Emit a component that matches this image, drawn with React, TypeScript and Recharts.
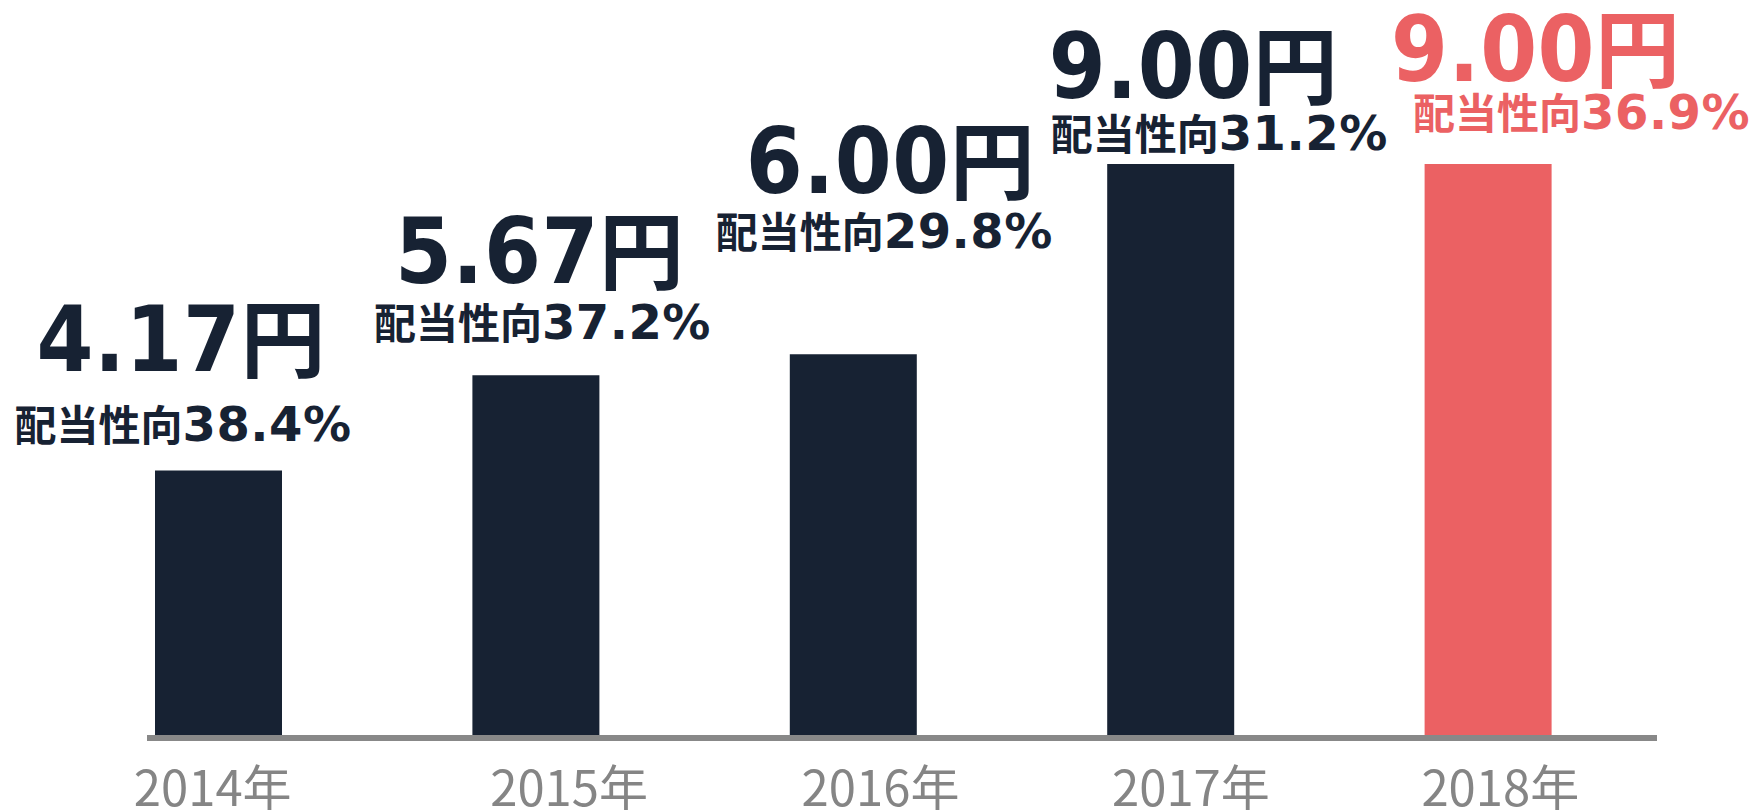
import React from 'react';
import { BarChart, Bar, XAxis, YAxis, Cell, LabelList, ReferenceLine } from 'recharts';

// ---- data ----
const years = ['2014年', '2015年', '2016年', '2017年', '2018年'];
const dividends = [4.17, 5.67, 6.0, 9.0, 9.0];
const payoutRatios = [38.4, 37.2, 29.8, 31.2, 36.9];
const highlightIndex = 4;

// ---- styling / layout ----
const NAVY = '#172233';
const RED = '#EB6163';
const AXIS_GREY = '#888888';
const TICK_GREY = '#858585';
const NUM_FONT_BIG = "'DejaVu Sans Condensed', 'DejaVu Sans', sans-serif";
const NUM_FONT = "'DejaVu Sans', sans-serif";
const CJK_FONT = "'Noto Sans CJK JP', sans-serif";

// label offsets relative to bar top-centre: [bigDx, bigDy, smallDx, smallDy]
const LABEL_OFFSETS = [
  [-37.5, -99.5, -35.5, -29.5],
  [3.5, -92.3, 6.5, -36.3],
  [37, -161, 31, -106],
  [22.5, -66, 48.5, -14],
  [47.5, -83, 93.5, -35],
];
const TICK_DX = [-6, 33, 27, 20, 12];

const chartData = years.map((year, i) => ({
  year,
  dividend: dividends[i],
  payout: payoutRatios[i],
}));

const BarLabel = (props: any) => {
  const { x, y, width, index } = props;
  const i = index as number;
  const d = chartData[i];
  const color = i === highlightIndex ? RED : NAVY;
  const cx = Number(x) + Number(width) / 2;
  const top = Number(y);
  const [bdx, bdy, sdx, sdy] = LABEL_OFFSETS[i];
  return (
    <g>
      <text x={cx + bdx} y={top + bdy} textAnchor="middle" fill={color}>
        <tspan fontFamily={NUM_FONT_BIG} fontWeight={700} fontSize={91} letterSpacing={0.5}>
          {d.dividend.toFixed(2)}
        </tspan>
        <tspan fontFamily={CJK_FONT} fontWeight={700} fontSize={85}>
          円
        </tspan>
      </text>
      <text x={cx + sdx} y={top + sdy} textAnchor="middle" fill={color}>
        <tspan fontFamily={CJK_FONT} fontWeight={700} fontSize={42}>
          配当性向
        </tspan>
        <tspan fontFamily={NUM_FONT} fontWeight={700} fontSize={48} letterSpacing={0.5}>
          {d.payout.toFixed(1)}%
        </tspan>
      </text>
    </g>
  );
};

const YearTick = (props: any) => {
  const { x, y, payload, index } = props;
  return (
    <text
      x={Number(x) + TICK_DX[index ?? 0]}
      y={Number(y) + 71}
      textAnchor="middle"
      fill={TICK_GREY}
      fontFamily={CJK_FONT}
      fontWeight={400}
      fontSize={49}
    >
      {payload.value}
    </text>
  );
};

const AxisBaseline = (props: any) => {
  const { x1, x2, y1 } = props;
  const left = Number(x1) + 87;
  const right = Number(x2) + 10;
  return <rect x={left} y={Number(y1)} width={right - left} height={6} fill={AXIS_GREY} />;
};

export default function App() {
  return (
    <div style={{ width: 1754, height: 810, background: '#ffffff' }}>
      <style>{`body{margin:0;}`}</style>
      <BarChart
        width={1754}
        height={810}
        data={chartData}
        margin={{ top: 164, right: 107, bottom: 0, left: 60 }}
      >
        <XAxis
          dataKey="year"
          axisLine={false}
          tickLine={false}
          tickSize={0}
          tickMargin={0}
          height={75}
          interval={0}
          tick={<YearTick />}
        />
        <YAxis hide domain={[0, 9]} />
        <Bar dataKey="dividend" barSize={127} isAnimationActive={false}>
          {chartData.map((_, i) => (
            <Cell key={i} fill={i === highlightIndex ? RED : NAVY} />
          ))}
          <LabelList dataKey="dividend" content={<BarLabel />} />
        </Bar>
        <ReferenceLine y={0} shape={<AxisBaseline />} isFront />
      </BarChart>
    </div>
  );
}
